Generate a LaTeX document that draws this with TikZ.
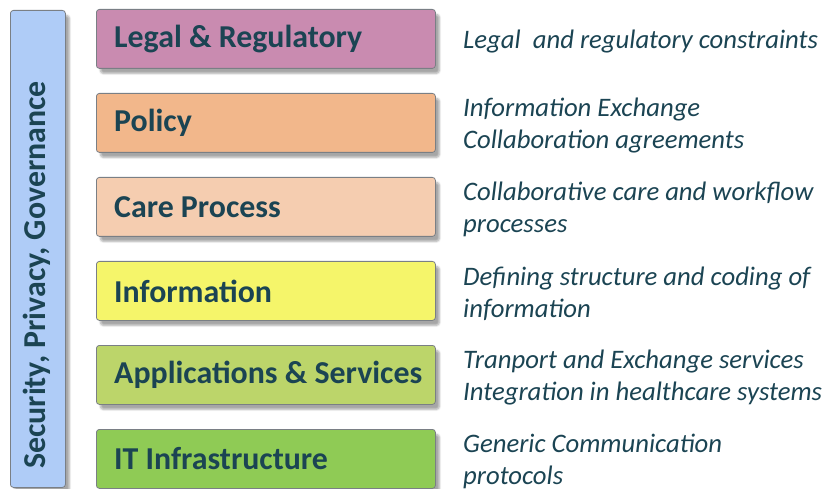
\documentclass[tikz,border=0pt]{standalone}
\usepackage{fontspec}
\setmainfont{Carlito}
\usetikzlibrary{shadows.blur}
\definecolor{txt}{HTML}{1B4453}
\definecolor{cLegal}{HTML}{C98BB0}
\definecolor{cPolicy}{HTML}{F2B78B}
\definecolor{cCare}{HTML}{F5CDB0}
\definecolor{cInfo}{HTML}{F5F56A}
\definecolor{cApp}{HTML}{BCD56A}
\definecolor{cIT}{HTML}{8FCB55}
\definecolor{cSec}{HTML}{AFCCF7}
\definecolor{edge}{HTML}{7A7F85}
\tikzset{
  layer/.style={draw=edge, line width=0.8bp, rounded corners=3bp, minimum width=339bp, minimum height=59bp,
    anchor=north west, inner sep=0pt,
    blur shadow={shadow xshift=4bp, shadow yshift=-5bp, shadow blur steps=6, shadow opacity=35}},
  ltext/.style={font=\fontsize{32}{36}\selectfont\bfseries, text=txt, anchor=west, inner sep=0pt},
  desc/.style={font=\fontsize{26.8}{32}\selectfont\itshape, text=txt, anchor=west, align=left, inner sep=0pt}
}
\begin{document}
\begin{tikzpicture}[x=1bp,y=-1bp]
\useasboundingbox (0,0) rectangle (825,489);
\node[draw=edge, line width=0.8bp, fill=cSec, rounded corners=3bp, anchor=north west, minimum width=55bp, minimum height=477bp, inner sep=0pt,
  blur shadow={shadow xshift=4bp, shadow yshift=-5bp, shadow blur steps=6, shadow opacity=35}] (sec) at (10,10) {};
\node[ltext, rotate=90, anchor=center] (sectext) at (37,275) {Security, Privacy, Governance};

\node[layer, fill=cLegal] (legal) at (96,9) {};
\node[layer, fill=cPolicy] (policy) at (96,93) {};
\node[layer, fill=cCare] (care) at (96,177) {};
\node[layer, fill=cInfo] (info) at (96,261) {};
\node[layer, fill=cApp] (app) at (96,345) {};
\node[layer, fill=cIT] (it) at (96,429) {};

\node[ltext] (legalt) at (114,39) {Legal \& Regulatory};
\node[ltext] (policyt) at (114,123) {Policy};
\node[ltext] (caret) at (114,207) {Care Process};
\node[ltext] (infot) at (114,291) {Information};
\node[ltext] (appt) at (114,375) {Applications \& Services};
\node[ltext] (itt) at (114,459) {IT Infrastructure};

\node[desc] (legald) at (463,41.5) {Legal\ \ and regulatory constraints};
\node[desc] (policyd) at (463,125.5) {Information Exchange\\Collaboration agreements};
\node[desc] (cared) at (463,209.5) {Collaborative care and workflow\\processes};
\node[desc] (infod) at (463,293.5) {Defining structure and coding of\\information};
\node[desc] (appd) at (463,377.5) {Tranport and Exchange services\\Integration in healthcare systems};
\node[desc] (itd) at (463,461.5) {Generic Communication\\protocols};
\end{tikzpicture}
\end{document}
